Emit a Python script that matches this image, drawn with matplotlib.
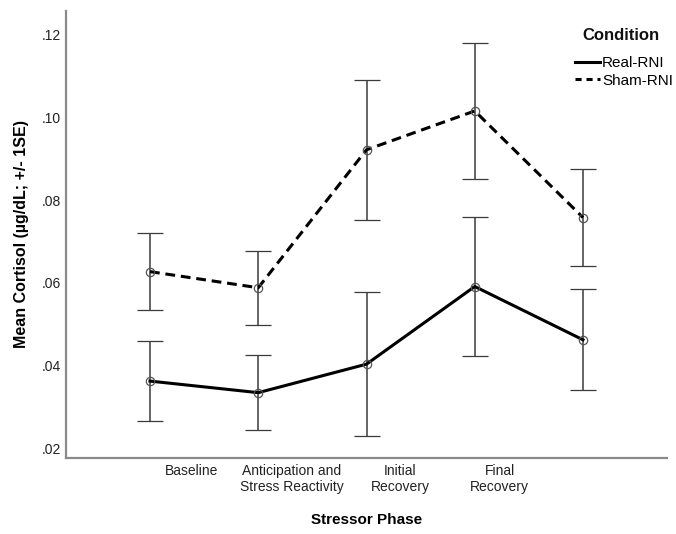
import numpy as np
import matplotlib
matplotlib.use("Agg")
import matplotlib.pyplot as plt
from matplotlib.ticker import FuncFormatter
from matplotlib.lines import Line2D

plt.rcParams['font.family'] = ['Liberation Sans', 'DejaVu Sans']

# ==== data ====
phases = ["Baseline", "Anticipation and\nStress Reactivity", "Initial\nRecovery", "Final\nRecovery"]
real_mean = [0.0362, 0.0334, 0.0403, 0.0591, 0.0462]
real_se = [0.0097, 0.0091, 0.0175, 0.0168, 0.0122]
sham_mean = [0.0627, 0.0588, 0.0922, 0.1016, 0.0758]
sham_se = [0.0094, 0.0090, 0.0170, 0.0164, 0.0117]
y_ticks = [0.02, 0.04, 0.06, 0.08, 0.10, 0.12]

# tick label placement (the labels sit offset from the points in the original)
label_pos = [0.38, 1.31, 2.31, 3.23]

x = np.arange(len(real_mean))

fig = plt.figure(figsize=(6.76, 5.34), dpi=100)
ax = fig.add_axes([66 / 676, 1 - 458 / 534, (667 - 66) / 676, (458 - 11) / 534])

err_kw = dict(ecolor="#3a3a3a", elinewidth=1.1, capsize=9.7, capthick=1.1)

ax.errorbar(x, real_mean, yerr=real_se, color="black", lw=2.2, ls="-",
            marker="o", ms=6, mfc="none", mec="#555555", mew=0.9,
            zorder=3, **err_kw)
ax.errorbar(x, sham_mean, yerr=sham_se, color="black", lw=2.2, ls=(0, (3.2, 1.9)),
            marker="o", ms=6, mfc="none", mec="#555555", mew=0.9,
            zorder=3, **err_kw)

ax.set_xlim(-0.776, 4.776)
ax.set_ylim(0.01758, 0.1258)

ax.set_yticks(y_ticks)
ax.yaxis.set_major_formatter(FuncFormatter(lambda v, p: f"{v:.2f}".lstrip("0")))
ax.set_xticks(label_pos, phases)
ax.tick_params(axis="both", length=0, labelsize=10, colors="#222222")
ax.tick_params(axis="y", pad=3.5)
ax.tick_params(axis="x", pad=4)

for s in ["top", "right"]:
    ax.spines[s].set_visible(False)
for s in ["left", "bottom"]:
    ax.spines[s].set_color("#8a8a8a")
    ax.spines[s].set_linewidth(1.6)

ax.set_ylabel("Mean Cortisol (µg/dL; +/- 1SE)", fontsize=11.5, fontweight="bold", labelpad=9)
ax.set_xlabel("Stressor Phase", fontsize=11, fontweight="bold", labelpad=14)

# ==== legend ====
fig.text(621 / 676, 1 - 35 / 534, "Condition", ha="center", va="center",
         fontsize=12, fontweight="bold", color="#111111")
handles = [Line2D([], [], color="black", lw=2.2, ls="-"),
           Line2D([], [], color="black", lw=2.2, ls=(0, (2.0, 1.6)))]
ax.legend(handles, ["Real-RNI", "Sham-RNI"],
          loc="upper left", bbox_to_anchor=(575 / 676, 1 - 56 / 534),
          bbox_transform=fig.transFigure, frameon=False, fontsize=11,
          handlelength=1.63, handletextpad=0.13, labelspacing=0.25,
          borderpad=0, borderaxespad=0)

plt.savefig("out.png", dpi=100)
